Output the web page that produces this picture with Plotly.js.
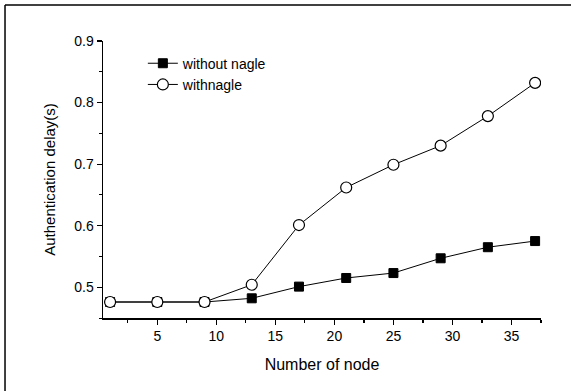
<!DOCTYPE html>
<html>
<head>
<meta charset="utf-8">
<script src="https://cdn.plot.ly/plotly-3.0.1.min.js"></script>
<style>
html,body{margin:0;padding:0;background:#fff;}
#chart{width:571px;height:391px;}
</style>
</head>
<body>
<div id="chart"></div>
<script>
const nodes = [1, 5, 9, 13, 17, 21, 25, 29, 33, 37];
const withoutNagle = [0.476, 0.476, 0.476, 0.482, 0.501, 0.515, 0.523, 0.547, 0.565, 0.575];
const withNagle = [0.476, 0.476, 0.476, 0.504, 0.601, 0.662, 0.699, 0.730, 0.778, 0.832];
const seriesNames = ["without nagle", "withnagle"];
const xTitle = "Number of node";
const yTitle = "Authentication delay(s)";

const traces = [
  {
    x: nodes, y: withoutNagle, name: seriesNames[0], type: "scatter", mode: "lines+markers",
    line: {color: "#000", width: 1},
    marker: {symbol: "square", size: 9, color: "#000", line: {color: "#000", width: 1}}
  },
  {
    x: nodes, y: withNagle, name: seriesNames[1], type: "scatter", mode: "lines+markers",
    line: {color: "#000", width: 1},
    marker: {symbol: "circle", size: 11, color: "#fff", line: {color: "#000", width: 1.2}}
  }
];

const axisFont = {family: "Liberation Sans, Arial, sans-serif", size: 14, color: "#000"};

const layout = {
  width: 571, height: 391,
  margin: {l: 103, r: 30, t: 41, b: 73},
  paper_bgcolor: "#fff", plot_bgcolor: "#fff",
  showlegend: true,
  legend: {
    x: 0.091, y: 0.976, xanchor: "left", yanchor: "top",
    bgcolor: "rgba(0,0,0,0)", font: axisFont, tracegroupgap: 0
  },
  xaxis: {
    range: [0.4, 37.5], tick0: 0, dtick: 5, ticks: "outside", ticklen: 5, tickwidth: 1.2,
    tickcolor: "#000", showline: true, linecolor: "#000", linewidth: 1.5,
    showgrid: false, zeroline: false, tickfont: axisFont,
    minor: {dtick: 2.5, tick0: 0, ticks: "outside", ticklen: 3, tickwidth: 1.2, tickcolor: "#000", showgrid: false},
    title: {text: xTitle, font: {family: "Liberation Sans, Arial, sans-serif", size: 16, color: "#000"}, standoff: 15}
  },
  yaxis: {
    range: [0.45, 0.9], tick0: 0.5, dtick: 0.1, ticks: "outside", ticklen: 5, tickwidth: 1.2,
    tickcolor: "#000", showline: true, linecolor: "#000", linewidth: 1.5,
    showgrid: false, zeroline: false, tickfont: axisFont, tickformat: ".1f",
    minor: {dtick: 0.05, tick0: 0.5, ticks: "outside", ticklen: 3, tickwidth: 1, tickcolor: "#000", showgrid: false},
    title: {text: yTitle, font: {family: "Liberation Sans, Arial, sans-serif", size: 15, color: "#000"}, standoff: 15}
  },
  shapes: [
    {type: "line", xref: "paper", yref: "paper", x0: -0.2237, x1: 1.1, y0: 1.13, y1: 1.13, line: {color: "#000", width: 1.5}},
    {type: "line", xref: "paper", yref: "paper", x0: -0.2237, x1: -0.2237, y0: 1.13, y1: -0.3, line: {color: "#000", width: 1.5}}
  ]
};

Plotly.newPlot("chart", traces, layout, {displayModeBar: false, staticPlot: true});
</script>
</body>
</html>
